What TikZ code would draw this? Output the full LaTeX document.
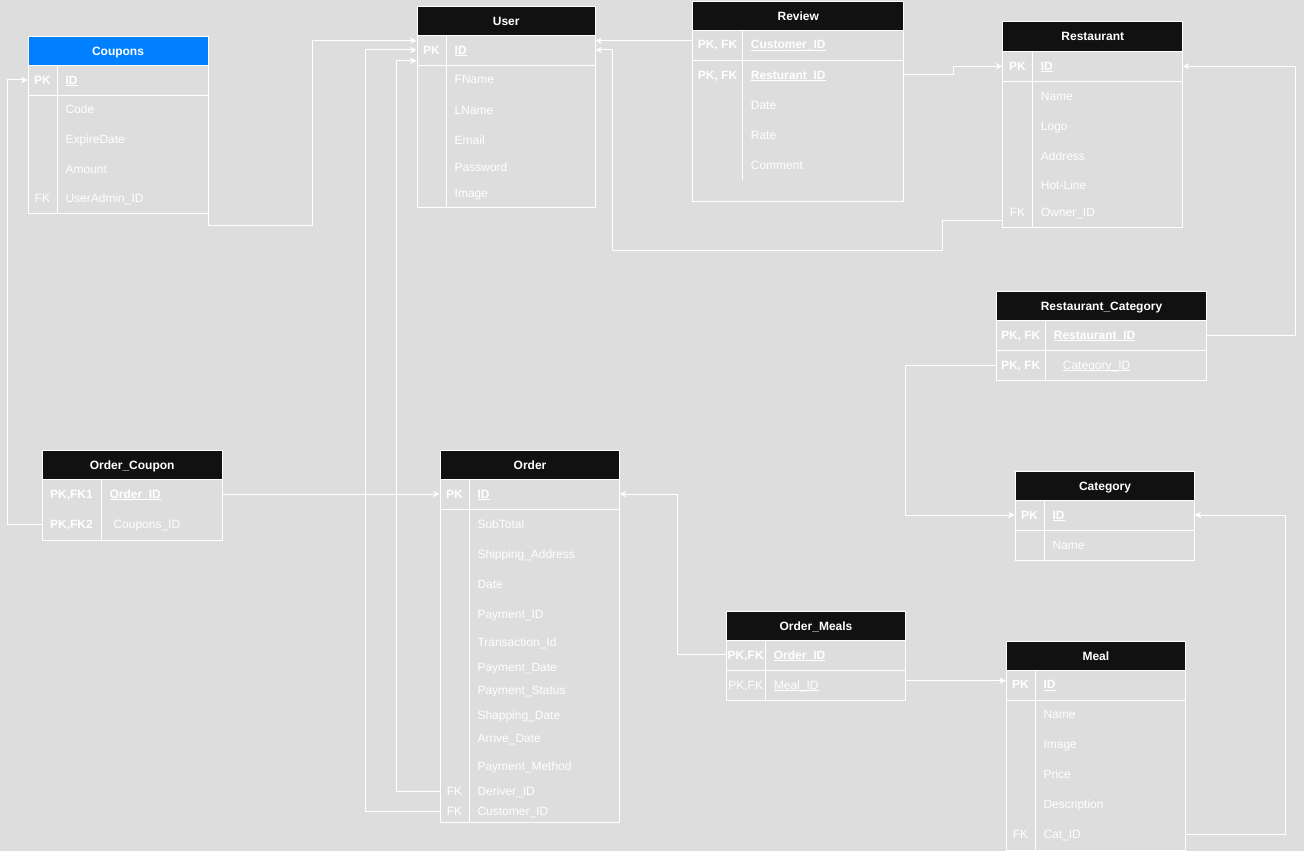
\documentclass[tikz,border=0pt]{standalone}
\usepackage{fontspec}
\setmainfont{Liberation Sans}
\usetikzlibrary{arrows.meta}

\definecolor{bgc}{RGB}{221,221,221}
\definecolor{hdrc}{RGB}{17,17,17}
\definecolor{cpblue}{RGB}{0,127,255}

% underline drawn just below the baseline
\newcommand\uln[1]{\setbox0\hbox{#1}\leavevmode\rlap{\rule[-1.8pt]{\wd0}{0.9pt}}\box0}

% one table row: name, left x, width, key column width, row centre y, key text, field text
\newcommand\erfield[7]{%
  \node[span, minimum width=#3] (#1) at (#2,#5) {};
  \node[keylbl] (#1-k) at ({#2+#4/2},{#5+4.3}) {#6};
  \node[fldlbl] (#1-f) at ({#2+#4+8},{#5+4.3}) {#7};
}

\begin{document}
\begin{tikzpicture}[x=1pt,y=-1pt,
  every node/.style={font=\fontsize{12}{14}\selectfont, text=white, inner sep=0pt},
  hdr/.style={draw=white, line width=1pt, fill=hdrc, anchor=north west,
    font=\fontsize{12}{14}\selectfont\bfseries, text height=8.6pt, text depth=0pt},
  frame/.style={draw=white, line width=1pt, anchor=north west},
  span/.style={anchor=west, minimum height=20pt},
  keylbl/.style={anchor=base},
  fldlbl/.style={anchor=base west},
  tbl/.style={draw=white, line width=1pt},
  rel/.style={draw=white, line width=1pt, -{Stealth[length=6.5pt,width=6.5pt]}}
]
\fill[bgc] (0,0) rectangle (1304,851);
\useasboundingbox (0,0) rectangle (1304,851);

% ---------- Coupons ----------
\node[hdr, fill=cpblue, minimum width=180, minimum height=29.3] (cp) at (27.5,35.7) {Coupons};
\node[frame, minimum width=180, minimum height=148] (cpbody) at (27.5,65) {};
\draw[tbl] (57.3,65) -- (57.3,213);
\draw[tbl] (27.5,95.3) -- (207.5,95.3);
\erfield{cp-id}{27.5}{180}{29.8}{80}{\bfseries PK}{\bfseries\uln{ID}}
\erfield{cp-code}{27.5}{180}{29.8}{109.6}{}{Code}
\erfield{cp-exp}{27.5}{180}{29.8}{139.6}{}{ExpireDate}
\erfield{cp-amt}{27.5}{180}{29.8}{169.6}{}{Amount}
\erfield{cp-uid}{27.5}{180}{29.8}{198.3}{FK}{UserAdmin\_ID}

% ---------- User ----------
\node[hdr, minimum width=178.5, minimum height=29.3] (usr) at (416.5,5.7) {User};
\node[frame, minimum width=178.5, minimum height=172.3] (usrbody) at (416.5,35) {};
\draw[tbl] (446.5,35) -- (446.5,207.3);
\draw[tbl] (416.5,65.3) -- (595,65.3);
\erfield{usr-id}{416.5}{178.5}{30}{50}{\bfseries PK}{\bfseries\uln{ID}}
\erfield{usr-fn}{416.5}{178.5}{30}{79.7}{}{FName}
\erfield{usr-ln}{416.5}{178.5}{30}{109.7}{}{LName}
\erfield{usr-em}{416.5}{178.5}{30}{139.7}{}{Email}
\erfield{usr-pw}{416.5}{178.5}{30}{167}{}{Password}
\erfield{usr-im}{416.5}{178.5}{30}{193.3}{}{Image}

% ---------- Review ----------
\node[hdr, minimum width=211, minimum height=29] (rv) at (692.3,1) {Review};
\node[frame, minimum width=211, minimum height=171] (rvbody) at (692.3,30) {};
\draw[tbl] (742.7,30) -- (742.7,180);
\draw[tbl] (692.3,60.3) -- (903.3,60.3);
\erfield{rv-cust}{692.3}{211}{50.4}{44.7}{\bfseries PK, FK}{\bfseries\uln{Customer\_ID}}
\erfield{rv-rest}{692.3}{211}{50.4}{74.7}{\bfseries PK, FK}{\bfseries\uln{Resturant\_ID}}
\erfield{rv-date}{692.3}{211}{50.4}{104.7}{}{Date}
\erfield{rv-rate}{692.3}{211}{50.4}{134.7}{}{Rate}
\erfield{rv-com}{692.3}{211}{50.4}{164.7}{}{Comment}

% ---------- Restaurant ----------
\node[hdr, minimum width=180, minimum height=29.7] (rs) at (1002.3,21.3) {Restaurant};
\node[frame, minimum width=180, minimum height=176] (rsbody) at (1002.3,51) {};
\draw[tbl] (1032.7,51) -- (1032.7,227);
\draw[tbl] (1002.3,81.3) -- (1182.3,81.3);
\erfield{rs-id}{1002.3}{180}{30.4}{66.3}{\bfseries PK}{\bfseries\uln{ID}}
\erfield{rs-name}{1002.3}{180}{30.4}{95.7}{}{Name}
\erfield{rs-logo}{1002.3}{180}{30.4}{125.7}{}{Logo}
\erfield{rs-addr}{1002.3}{180}{30.4}{155.7}{}{Address}
\erfield{rs-hot}{1002.3}{180}{30.4}{185}{}{Hot-Line}
\erfield{rs-owner}{1002.3}{180}{30.4}{212.5}{FK}{Owner\_ID}

% ---------- Restaurant_Category ----------
\node[hdr, minimum width=210.6, minimum height=29.6] (rc) at (995.7,290.7) {Restaurant\_Category};
\node[frame, minimum width=210.6, minimum height=60] (rcbody) at (995.7,320.3) {};
\draw[tbl] (1045.7,320.3) -- (1045.7,380.3);
\draw[tbl] (995.7,350.3) -- (1206.3,350.3);
\erfield{rc-rest}{995.7}{210.6}{50}{335}{\bfseries PK, FK}{\bfseries\uln{Restaurant\_ID}}
\erfield{rc-cat}{995.7}{210.6}{50}{365}{\bfseries PK, FK}{\hspace*{9pt}\uln{Category\_ID}}

% ---------- Category ----------
\node[hdr, minimum width=179.6, minimum height=29.3] (ct) at (1014.7,470.7) {Category};
\node[frame, minimum width=179.6, minimum height=60.3] (ctbody) at (1014.7,500) {};
\draw[tbl] (1044.3,500) -- (1044.3,560.3);
\draw[tbl] (1014.7,530.3) -- (1194.3,530.3);
\erfield{ct-id}{1014.7}{179.6}{29.6}{515}{\bfseries PK}{\bfseries\uln{ID}}
\erfield{ct-name}{1014.7}{179.6}{29.6}{545}{}{Name}

% ---------- Order_Coupon ----------
\node[hdr, minimum width=180, minimum height=29.6] (oc) at (41.7,449.7) {Order\_Coupon};
\node[frame, minimum width=180, minimum height=60.2] (ocbody) at (41.7,479.3) {};
\draw[tbl] (101.3,479.3) -- (101.3,539.5);
\erfield{oc-ord}{41.7}{180}{59.6}{494}{\bfseries PK,FK1}{\bfseries\uln{Order\_ID}}
\erfield{oc-cpn}{41.7}{180}{59.6}{524}{\bfseries PK,FK2}{\hspace*{4pt}Coupons\_ID}

% ---------- Order ----------
\node[hdr, minimum width=179.6, minimum height=29.6] (ord) at (439.7,449.7) {Order};
\node[frame, minimum width=179.6, minimum height=342.4] (ordbody) at (439.7,479.3) {};
\draw[tbl] (469.3,479.3) -- (469.3,821.7);
\draw[tbl] (439.7,509.3) -- (619.3,509.3);
\erfield{ord-id}{439.7}{179.6}{29.6}{494}{\bfseries PK}{\bfseries\uln{ID}}
\erfield{ord-sub}{439.7}{179.6}{29.6}{523.8}{}{SubTotal}
\erfield{ord-ship}{439.7}{179.6}{29.6}{553.8}{}{Shipping\_Address}
\erfield{ord-date}{439.7}{179.6}{29.6}{584}{}{Date}
\erfield{ord-pay}{439.7}{179.6}{29.6}{614}{}{Payment\_ID}
\erfield{ord-trx}{439.7}{179.6}{29.6}{642}{}{Transaction\_Id}
\erfield{ord-pdate}{439.7}{179.6}{29.6}{667}{}{Payment\_Date}
\erfield{ord-pst}{439.7}{179.6}{29.6}{690.3}{}{Payment\_Status}
\erfield{ord-sdate}{439.7}{179.6}{29.6}{715.3}{}{Shapping\_Date}
\erfield{ord-adate}{439.7}{179.6}{29.6}{737.7}{}{Arrive\_Date}
\erfield{ord-pm}{439.7}{179.6}{29.6}{766.3}{}{Payment\_Method}
\erfield{ord-drv}{439.7}{179.6}{29.6}{791.3}{FK}{Deriver\_ID}
\erfield{ord-cust}{439.7}{179.6}{29.6}{811.3}{FK}{Customer\_ID}

% ---------- Order_Meals ----------
\node[hdr, minimum width=179.6, minimum height=29.6] (om) at (725.7,610.7) {Order\_Meals};
\node[frame, minimum width=179.6, minimum height=59.7] (ombody) at (725.7,640.3) {};
\draw[tbl] (765.7,640.3) -- (765.7,700);
\draw[tbl] (725.7,670.3) -- (905.3,670.3);
\erfield{om-ord}{725.7}{179.6}{40}{654.7}{\bfseries PK,FK}{\bfseries\uln{Order\_ID}}
\erfield{om-meal}{725.7}{179.6}{40}{684.7}{PK,FK}{\uln{Meal\_ID}}

% ---------- Meal ----------
\node[hdr, minimum width=179.3, minimum height=29.6] (ml) at (1005.7,640.7) {Meal};
\node[frame, minimum width=179.3, minimum height=179.7] (mlbody) at (1005.7,670.3) {};
\draw[tbl] (1035.3,670.3) -- (1035.3,850);
\draw[tbl] (1005.7,700.3) -- (1185,700.3);
\erfield{ml-id}{1005.7}{179.3}{29.6}{684.3}{\bfseries PK}{\bfseries\uln{ID}}
\erfield{ml-name}{1005.7}{179.3}{29.6}{714.3}{}{Name}
\erfield{ml-img}{1005.7}{179.3}{29.6}{744.3}{}{Image}
\erfield{ml-price}{1005.7}{179.3}{29.6}{774.3}{}{Price}
\erfield{ml-desc}{1005.7}{179.3}{29.6}{804.3}{}{Description}
\erfield{ml-cat}{1005.7}{179.3}{29.6}{834.3}{FK}{Cat\_ID}

% ---------- relationships ----------
\draw[rel] (cpbody.south east) |- (312.3,225) |- ([yshift=9.3pt]usr-id.west);
\draw[rel] (ord-cust.west) -| ([xshift=-50.8pt]usr-id.west) -- (usr-id.west);
\draw[rel] (ord-drv.west) -| ([xshift=-19.8pt,yshift=-10.7pt]usr-id.west) -- ([yshift=-10.7pt]usr-id.west);
\draw[rel] ([yshift=4pt]rv-cust.west) -- ([yshift=9.3pt]usr-id.east);
\draw[rel] ([yshift=-8.2pt]rs-owner.west) -| (942.3,250) -| ([xshift=17.3pt]usr-id.east) -- (usr-id.east);
\draw[rel] (rv-rest.east) -| ([xshift=-49pt]rs-id.west) -- (rs-id.west);
\draw[rel] (rc-rest.east) -| ([xshift=113pt]rs-id.east) -- (rs-id.east);
\draw[rel] (rc-cat.west) -| ([xshift=-109.4pt]ct-id.west) -- (ct-id.west);
\draw[rel] (ml-cat.east) -| ([xshift=91pt]ct-id.east) -- (ct-id.east);
\draw[rel] ([yshift=4pt]om-meal.east) -- ([yshift=3.6pt]ml-id.west);
\draw[rel] (om-ord.west) -| ([xshift=58pt]ord-id.east) -- (ord-id.east);
\draw[rel] (oc-ord.east) -- (ord-id.west);
\draw[rel] (oc-cpn.west) -| ([xshift=-20.2pt]cp-id.west) -- (cp-id.west);
\end{tikzpicture}
\end{document}
